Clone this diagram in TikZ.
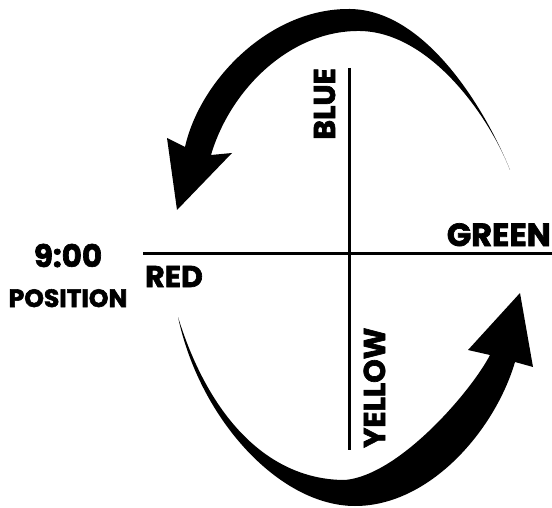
\documentclass[tikz,border=0pt]{standalone}
\usepackage{fontspec}
\setmainfont{Poppins}[BoldFeatures={FakeBold=2.2}]
\usepackage{tikz}
\usetikzlibrary{positioning}

\tikzset{
  dial/.style={font=\bfseries\fontsize{30}{30}\selectfont,inner sep=0pt},
  axis/.style={line width=3pt},
}

\begin{document}
\begin{tikzpicture}[x=1pt,y=-1pt]
  \useasboundingbox (0,0) rectangle (552,508);
  % the two axes
  \coordinate (W) at (143,253);
  \coordinate (E) at (552,253);
  \coordinate (N) at (349,68);
  \coordinate (S) at (349,450);
  \draw[axis] (W) -- (E);
  \draw[axis] (N) -- (S);
  % upper sweep, right to left
  \fill (510,170) .. controls (490,120) and (430,10) .. (350,9)
        .. controls (270,8) and (200,80) .. (185,147)
        -- (167,138) -- (177,210) -- (232,153) -- (211,155)
        .. controls (230,90) and (290,30) .. (360,31)
        .. controls (428,32) and (487,112) .. (510,170) -- cycle;
  % lower sweep, left to right
  \fill (178,317) .. controls (200,420) and (280,506) .. (355,506)
        .. controls (430,506) and (495,430) .. (515,362)
        -- (533,367) -- (520,293) -- (468,350) -- (490,355)
        .. controls (472,390) and (400,475) .. (345,480)
        .. controls (270,480) and (210,420) .. (178,317) -- cycle;
  % labels
  \node[dial,rotate=90,anchor=base east] (blue) at (335,68) {BLUE};
  \node[dial,rotate=90,anchor=base west] (yellow) at (385,448) {YELLOW};
  \node[dial,font=\bfseries\fontsize{32}{32}\selectfont,anchor=base east]
      (green) at (551,246) {GREEN};
  \node[dial,anchor=base west] (red) at (145,287) {RED};
  \node[dial,font=\bfseries\fontsize{31}{31}\selectfont,anchor=base]
      (clock) at (68,267) {9:00};
  \node[dial,font=\bfseries\fontsize{25}{25}\selectfont,anchor=base]
      (position) at (68,307) {POSITION};
\end{tikzpicture}
\end{document}
